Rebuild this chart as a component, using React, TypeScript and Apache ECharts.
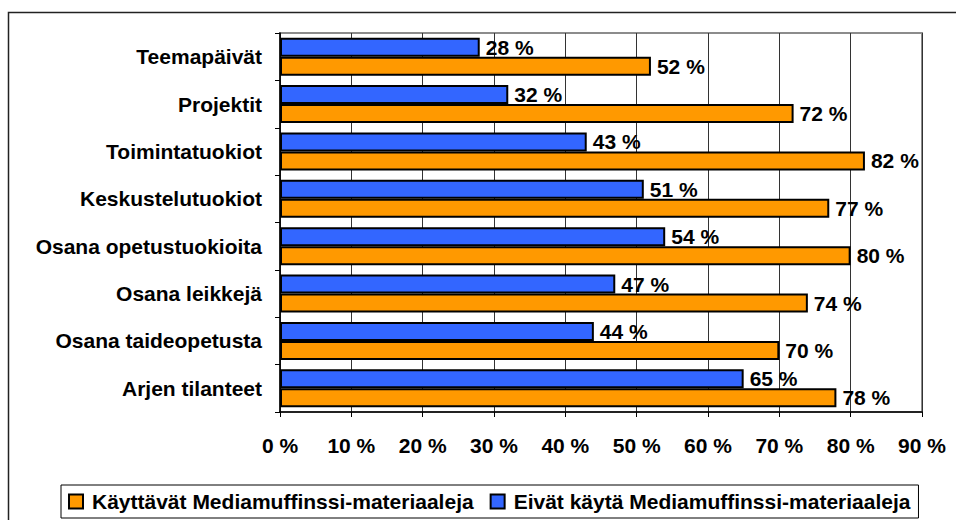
import React, { useEffect, useRef } from "react";
import * as echarts from "echarts";

const categories = [
  "Teemapäivät",
  "Projektit",
  "Toimintatuokiot",
  "Keskustelutuokiot",
  "Osana opetustuokioita",
  "Osana leikkejä",
  "Osana taideopetusta",
  "Arjen tilanteet",
];
const seriesUsers = "Käyttävät Mediamuffinssi-materiaaleja";
const seriesNonUsers = "Eivät käytä Mediamuffinssi-materiaaleja";
const usersValues = [52, 72, 82, 77, 80, 74, 70, 78];
const nonUsersValues = [28, 32, 43, 51, 54, 47, 44, 65];

const FONT = "'Liberation Sans', Arial, sans-serif";
const FS = 21;

export default function App() {
  const ref = useRef<HTMLDivElement>(null);
  useEffect(() => {
    if (!ref.current) return;
    const chart = echarts.init(ref.current, undefined, { renderer: "svg" });
    const labelCfg = {
      show: true,
      position: "right" as const,
      distance: 6,
      formatter: "{c} %",
      color: "#000",
      fontSize: FS,
      fontWeight: "bold" as const,
      fontFamily: FONT,
    };
    chart.setOption({
      animation: false,
      backgroundColor: "#fff",
      graphic: [
        {
          type: "rect",
          shape: { x: 8.5, y: 12.5, width: 1000, height: 600 },
          style: { fill: "none", stroke: "#222", lineWidth: 1.5 },
          silent: true,
          z: -10,
        },
      ],
      grid: {
        left: 280,
        top: 33,
        width: 642,
        height: 379,
        show: true,
        borderColor: "#8c8c8c",
        borderWidth: 2,
        backgroundColor: "transparent",
      },
      legend: {
        data: [seriesUsers, seriesNonUsers],
        left: 61,
        top: 485,
        padding: [6, 8, 6, 7],
        borderColor: "#000",
        borderWidth: 1,
        itemWidth: 14,
        itemHeight: 14,
        itemGap: 16,
        icon: "rect",
        itemStyle: { borderColor: "#000", borderWidth: 2 },
        textStyle: {
          color: "#000",
          fontSize: FS,
          fontWeight: "bold",
          fontFamily: FONT,
          padding: [0, 0, 0, 4],
        },
      },
      xAxis: {
        type: "value",
        min: 0,
        max: 90,
        interval: 10,
        axisLine: { show: true, lineStyle: { color: "#000", width: 1.5 } },
        axisTick: { show: true, length: 5, lineStyle: { color: "#000" } },
        splitLine: { show: true, lineStyle: { color: "#333", width: 1 } },
        axisLabel: {
          formatter: "{value} %",
          color: "#000",
          fontSize: FS,
          fontWeight: "bold",
          fontFamily: FONT,
          margin: 23,
        },
      },
      yAxis: {
        type: "category",
        data: categories,
        inverse: true,
        axisLine: { show: true, lineStyle: { color: "#000", width: 1.5 } },
        axisTick: { show: true, length: 5, lineStyle: { color: "#000" } },
        axisLabel: {
          color: "#000",
          fontSize: FS,
          fontWeight: "bold",
          fontFamily: FONT,
          margin: 18,
        },
      },
      series: [
        {
          name: seriesNonUsers,
          type: "bar",
          data: nonUsersValues,
          barWidth: 19,
          barGap: "0%",
          itemStyle: { color: "#3366FF", borderColor: "#000", borderWidth: 2 },
          label: labelCfg,
        },
        {
          name: seriesUsers,
          type: "bar",
          data: usersValues,
          barWidth: 19,
          barGap: "0%",
          itemStyle: { color: "#FF9900", borderColor: "#000", borderWidth: 2 },
          label: labelCfg,
        },
      ],
    });
    return () => chart.dispose();
  }, []);
  return (
    <div
      ref={ref}
      style={{ position: "fixed", left: 0, top: 0, width: 956, height: 520 }}
    />
  );
}
